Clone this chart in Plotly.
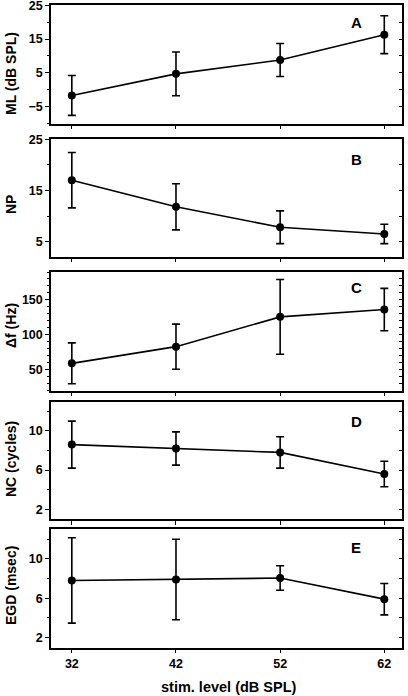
import plotly.graph_objects as go

# ---- data ----
stim_level = [32, 42, 52, 62]
x_ticks = [32, 42, 52, 62]

ml_mean = [-1.7, 4.7, 8.8, 16.3]
ml_err = [5.9, 6.5, 4.9, 5.6]

np_mean = [17.0, 11.8, 7.8, 6.5]
np_err = [5.4, 4.5, 3.2, 1.9]

df_mean = [58.6, 82.6, 125.5, 136.0]
df_err = [29.4, 32.5, 53.8, 30.5]

nc_mean = [8.6, 8.2, 7.8, 5.6]
nc_err = [2.4, 1.7, 1.6, 1.3]

egd_mean = [7.8, 7.9, 8.05, 5.9]
egd_err = [4.35, 4.1, 1.25, 1.6]

panel_letters = ["A", "B", "C", "D", "E"]
y_titles = ["ML (dB SPL)", "NP", "Δf (Hz)", "NC (cycles)", "EGD (msec)"]
x_title = "stim. level (dB SPL)"

# ---- layout geometry (pixels) ----
W, H = 408, 696
FONT = "Liberation Sans, Arial, sans-serif"
panels = [
    # (top px, bottom px, y range, major dtick, tick0, minor dtick, mean, err, title y-center px, letter y px)
    (5, 123.5, [-10, 25.1], 10, -5, 5, ml_mean, ml_err, 74, 22.5),
    (139, 256.7, [2.05, 25.05], 10, 5, 5, np_mean, np_err, 205, 159),
    (271.7, 390.5, [19.5, 190.5], 50, 50, 10, df_mean, df_err, 326, 287),
    (401.5, 519, [1.0, 13.0], 4, 2, 2, nc_mean, nc_err, 459, 421),
    (528.5, 647.7, [0.95, 13.1], 4, 2, 2, egd_mean, egd_err, 586, 547),
]
x_left, x_right = 51, 402
x_range = [30.0, 63.7]


def py(p):
    return 1 - p / H


fig = go.Figure()
layout = dict(
    width=W, height=H, margin=dict(l=0, r=0, t=0, b=0, autoexpand=False),
    paper_bgcolor="white", plot_bgcolor="white", showlegend=False,
    font=dict(family=FONT, color="black", size=12.5, weight="bold"),
)
annotations = []
n = len(panels)
for i, (top, bot, yr, dt, t0, mdt, mean, err, ty, ly) in enumerate(panels):
    k = i + 1
    xs = "" if k == 1 else str(k)
    ys = xs
    fig.add_trace(go.Scatter(
        x=stim_level, y=mean, mode="lines+markers",
        xaxis="x" + xs, yaxis="y" + ys,
        line=dict(color="black", width=1.6),
        marker=dict(color="black", size=8),
        error_y=dict(type="data", array=err, visible=True, color="black",
                     thickness=1.6, width=4),
    ))
    # invisible trace for the right-side inward tick axis
    rk = n + k
    fig.add_trace(go.Scatter(x=[], y=[], xaxis="x" + xs, yaxis="y" + str(rk),
                             hoverinfo="skip"))
    last = (k == n)
    layout["xaxis" + xs] = dict(
        domain=[x_left / W, x_right / W], range=x_range, anchor="y" + ys,
        showline=True, linecolor="black", linewidth=1.5, mirror=True,
        showgrid=False, zeroline=False,
        tickmode="array", tickvals=x_ticks, ticktext=[str(v) for v in x_ticks],
        ticks="outside", ticklen=4, tickwidth=1, tickcolor="black",
        showticklabels=last,
        tickfont=dict(family=FONT, size=12.5, weight="bold", color="black"),
    )
    layout["yaxis" + ys] = dict(
        domain=[py(bot), py(top)], range=yr, anchor="x" + xs,
        showline=True, linecolor="black", linewidth=1.5, mirror=True,
        showgrid=False, zeroline=False, ticklabeloverflow="allow",
        tick0=t0, dtick=dt, ticks="outside", ticklen=4, tickwidth=1,
        tickcolor="black",
        minor=dict(dtick=mdt, tick0=t0, ticks="outside", ticklen=2,
                   tickwidth=1, tickcolor="black", showgrid=False),
        tickfont=dict(family=FONT, size=12.5, weight="bold", color="black"),
    )
    layout["yaxis" + str(rk)] = dict(
        overlaying="y" + ys, side="right", anchor="x" + xs, range=yr,
        showline=False, showgrid=False, zeroline=False, showticklabels=False,
        tick0=t0, dtick=mdt, ticks="inside", ticklen=3, tickwidth=1,
        tickcolor="black",
    )
    annotations.append(dict(
        text=panel_letters[i], xref="paper", yref="paper",
        x=356 / W, y=py(ly), xanchor="center", yanchor="middle",
        showarrow=False, font=dict(family=FONT, size=15, weight="bold", color="black"),
    ))
    annotations.append(dict(
        text=y_titles[i], xref="paper", yref="paper", textangle=-90,
        x=11 / W, y=py(ty), xanchor="center", yanchor="middle",
        showarrow=False, font=dict(family=FONT, size=14, weight="bold", color="black"),
    ))

annotations.append(dict(
    text=x_title, xref="paper", yref="paper",
    x=229 / W, y=py(686.5), xanchor="center", yanchor="middle",
    showarrow=False, font=dict(family=FONT, size=14.5, weight="bold", color="black"),
))
layout["annotations"] = annotations
fig.update_layout(**layout)
fig.write_html(
    "out.html",
    config={"displayModeBar": False},
    post_script="document.body.style.margin='0';document.body.style.overflow='hidden';",
)
